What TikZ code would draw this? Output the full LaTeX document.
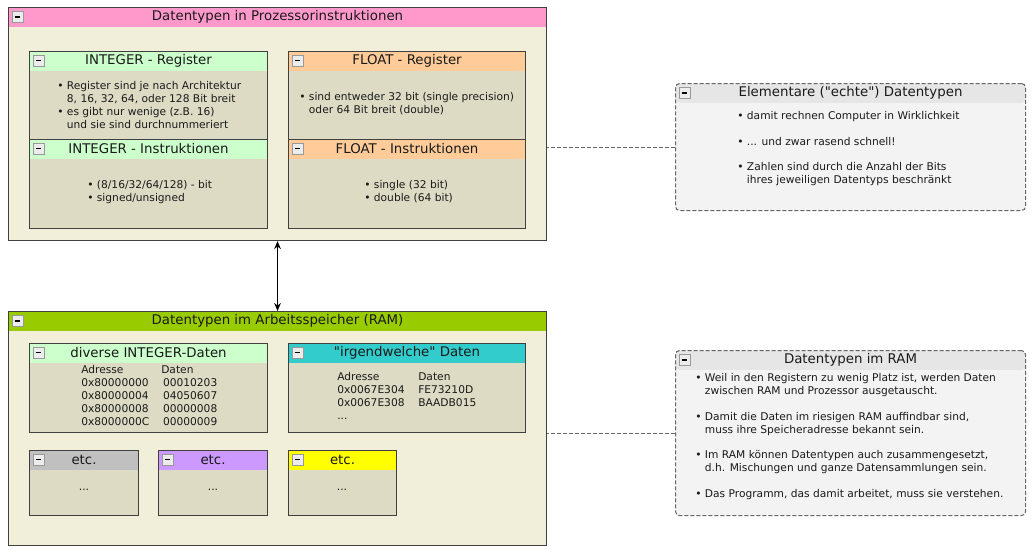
\documentclass[tikz,border=0pt]{standalone}
\usepackage{fontspec}
\setmainfont{DejaVu Sans}
\usepackage{xcolor}
\usepackage{tikz}
\usetikzlibrary{arrows.meta, positioning, calc}
\definecolor{outerFill}{HTML}{F1EED9}
\definecolor{innerFill}{HTML}{DEDBC5}
\definecolor{frameGray}{HTML}{404040}
\definecolor{procHead}{HTML}{FF99CC}
\definecolor{ramHead}{HTML}{99CC00}
\definecolor{intHead}{HTML}{CCFFCC}
\definecolor{fltHead}{HTML}{FFCC99}
\definecolor{anyHead}{HTML}{33CCCC}
\definecolor{etcGray}{HTML}{C0C0C0}
\definecolor{etcPurple}{HTML}{CC99FF}
\definecolor{etcYellow}{HTML}{FFFF00}
\definecolor{noteFill}{HTML}{F3F3F3}
\definecolor{noteHead}{HTML}{E6E6E6}
\definecolor{noteLine}{HTML}{666666}
\definecolor{textDark}{HTML}{1A1A1A}

\begin{document}
\begin{tikzpicture}[
    x=0.75pt, y=-0.75pt,
    sz/.style 2 args={minimum width=#1*0.75pt, minimum height=#2*0.75pt},
    headed/.style={path picture={\fill[#1] (path picture bounding box.north west) rectangle ([yshift=-14.5pt]path picture bounding box.north east);}},
    outer/.style={rectangle, draw=frameGray, line width=0.8pt, fill=outerFill, anchor=north west, inner sep=0pt},
    inner/.style={rectangle, draw=frameGray, line width=0.8pt, fill=innerFill, anchor=north west, inner sep=0pt},
    note/.style={rectangle, rounded corners=3pt, draw=noteLine, dash pattern=on 3pt off 1.5pt, line width=0.8pt, fill=noteFill, anchor=north west, inner sep=0pt, headed=noteHead},
    title/.style={inner sep=0pt, font=\fontsize{10}{12}\selectfont, text=textDark},
    minus/.style={rectangle, draw=gray!80, fill=white!85!gray, minimum size=8pt, inner sep=0pt,
        path picture={\draw[black, line width=1.1pt] ([xshift=-2.2pt]path picture bounding box.center) -- ([xshift=2.2pt]path picture bounding box.center);}},
    txt/.style={anchor=north west, inner sep=0pt, align=left, font=\fontsize{8}{9.75}\selectfont, text=textDark},
    dots/.style={inner sep=0pt, font=\fontsize{8}{9.75}\selectfont, text=textDark},
    arrow/.style={{Stealth[length=6pt, width=5pt]}-{Stealth[length=6pt, width=5pt]}, line width=0.8pt},
    link/.style={dash pattern=on 3pt off 1.5pt, draw=noteLine, line width=0.8pt}
]
    \useasboundingbox (0,0) rectangle (1036,550);

    % Prozessor
    \node[outer, sz={538}{233}, headed=procHead] (proc) at (8,7) {};
    \node[title] (proc-title) at ([yshift=-7.5pt]proc.north) {Datentypen in Prozessorinstruktionen};
    \node[minus] (proc-min) at ([shift={(9.5,10)}]proc.north west) {};

    \node[inner, sz={238}{88}, headed=intHead] (intreg) at (29,51) {};
    \node[title] (intreg-title) at ([yshift=-7.25pt]intreg.north) {INTEGER - Register};
    \node[minus] (intreg-min) at ([shift={(9.5,9.5)}]intreg.north west) {};
    \node[txt] (intreg-txt) at (57,81) {• Register sind je nach Architektur\\\hphantom{• }8, 16, 32, 64, oder 128 Bit breit\\• es gibt nur wenige (z.B. 16)\\\hphantom{• }und sie sind durchnummeriert};

    \node[inner, sz={238}{89}, headed=intHead] (intins) at (29,139) {};
    \node[title] (intins-title) at ([yshift=-7.25pt]intins.north) {INTEGER - Instruktionen};
    \node[minus] (intins-min) at ([shift={(9.5,9.5)}]intins.north west) {};
    \node[txt] (intins-txt) at (87,180) {• (8/16/32/64/128) - bit\\• signed/unsigned};

    \node[inner, sz={237}{88}, headed=fltHead] (fltreg) at (288,51) {};
    \node[title] (fltreg-title) at ([yshift=-7.25pt]fltreg.north) {FLOAT - Register};
    \node[minus] (fltreg-min) at ([shift={(9.5,9.5)}]fltreg.north west) {};
    \node[txt] (fltreg-txt) at (299,92) {• sind entweder 32 bit (single precision)\\\hphantom{• }oder 64 Bit breit (double)};

    \node[inner, sz={237}{89}, headed=fltHead] (fltins) at (288,139) {};
    \node[title] (fltins-title) at ([yshift=-7.25pt]fltins.north) {FLOAT - Instruktionen};
    \node[minus] (fltins-min) at ([shift={(9.5,9.5)}]fltins.north west) {};
    \node[txt] (fltins-txt) at (364,180) {• single (32 bit)\\• double (64 bit)};

    % Arbeitsspeicher
    \node[outer, sz={538}{234}, headed=ramHead] (ram) at (8,311) {};
    \node[title] (ram-title) at ([yshift=-7.5pt]ram.north) {Datentypen im Arbeitsspeicher (RAM)};
    \node[minus] (ram-min) at ([shift={(9.5,10)}]ram.north west) {};

    \node[inner, sz={238}{89}, headed=intHead] (intdat) at (29,343) {};
    \node[title] (intdat-title) at ([yshift=-7.25pt]intdat.north) {diverse INTEGER-Daten};
    \node[minus] (intdat-min) at ([shift={(9.5,9.5)}]intdat.north west) {};
    \node[txt] (intdat-adr) at (81,365) {Adresse\\0x80000000\\0x80000004\\0x80000008\\0x8000000C};
    \node[txt] (intdat-val) at (161,365) {Daten\\\,00010203\\\,04050607\\\,00000008\\\,00000009};

    \node[inner, sz={237}{89}, headed=anyHead] (anydat) at (288,343) {};
    \node[title] (anydat-title) at ([yshift=-7.25pt]anydat.north) {\textquotedbl irgendwelche\textquotedbl{} Daten};
    \node[minus] (anydat-min) at ([shift={(9.5,9.5)}]anydat.north west) {};
    \node[txt] (anydat-adr) at (337,372) {Adresse\\0x0067E304\\0x0067E308\\...};
    \node[txt] (anydat-val) at (418,372) {Daten\\FE73210D\\BAADB015};

    \node[inner, sz={109}{65}, headed=etcGray] (etcA) at (29,450) {};
    \node[title] (etcA-title) at ([yshift=-7.25pt]etcA.north) {etc.};
    \node[minus] (etcA-min) at ([shift={(9.5,9.5)}]etcA.north west) {};
    \node[dots] (etcA-txt) at (84,490) {...};

    \node[inner, sz={109}{65}, headed=etcPurple] (etcB) at (158,450) {};
    \node[title] (etcB-title) at ([yshift=-7.25pt]etcB.north) {etc.};
    \node[minus] (etcB-min) at ([shift={(9.5,9.5)}]etcB.north west) {};
    \node[dots] (etcB-txt) at (213,490) {...};

    \node[inner, sz={108}{65}, headed=etcYellow] (etcC) at (288,450) {};
    \node[title] (etcC-title) at ([yshift=-7.25pt]etcC.north) {etc.};
    \node[minus] (etcC-min) at ([shift={(9.5,9.5)}]etcC.north west) {};
    \node[dots] (etcC-txt) at (342,490) {...};

    % Notizen
    \node[note, sz={350}{127}] (elem) at (675,83) {};
    \node[title] (elem-title) at ([yshift=-7.5pt]elem.north) {Elementare (\textquotedbl echte\textquotedbl) Datentypen};
    \node[minus] (elem-min) at ([shift={(9.5,10)}]elem.north west) {};
    \node[txt] (elem-txt) at (737,111) {• damit rechnen Computer in Wirklichkeit\\[9.5pt]• ... und zwar rasend schnell!\\[9.5pt]• Zahlen sind durch die Anzahl der Bits\\\hphantom{• }ihres jeweiligen Datentyps beschränkt};

    \node[note, sz={350}{165}] (ramnote) at (675,350) {};
    \node[title] (ramnote-title) at ([yshift=-7.5pt]ramnote.north) {Datentypen im RAM};
    \node[minus] (ramnote-min) at ([shift={(9.5,10)}]ramnote.north west) {};
    \node[txt] (ramnote-txt) at (695,373) {• Weil in den Registern zu wenig Platz ist, werden Daten\\\hphantom{• }zwischen RAM und Prozessor ausgetauscht.\\[9.5pt]• Damit die Daten im riesigen RAM auffindbar sind,\\\hphantom{• }muss ihre Speicheradresse bekannt sein.\\[9.5pt]• Im RAM können Datentypen auch zusammengesetzt,\\\hphantom{• }d.h. Mischungen und ganze Datensammlungen sein.\\[9.5pt]• Das Programm, das damit arbeitet, muss sie verstehen.};

    % Verbindungen
    \draw[arrow] (proc) -- (ram);
    \draw[link] (elem.west) -- (elem.west -| proc.east);
    \draw[link] (ramnote.west) -- (ramnote.west -| ram.east);

\end{tikzpicture}
\end{document}
